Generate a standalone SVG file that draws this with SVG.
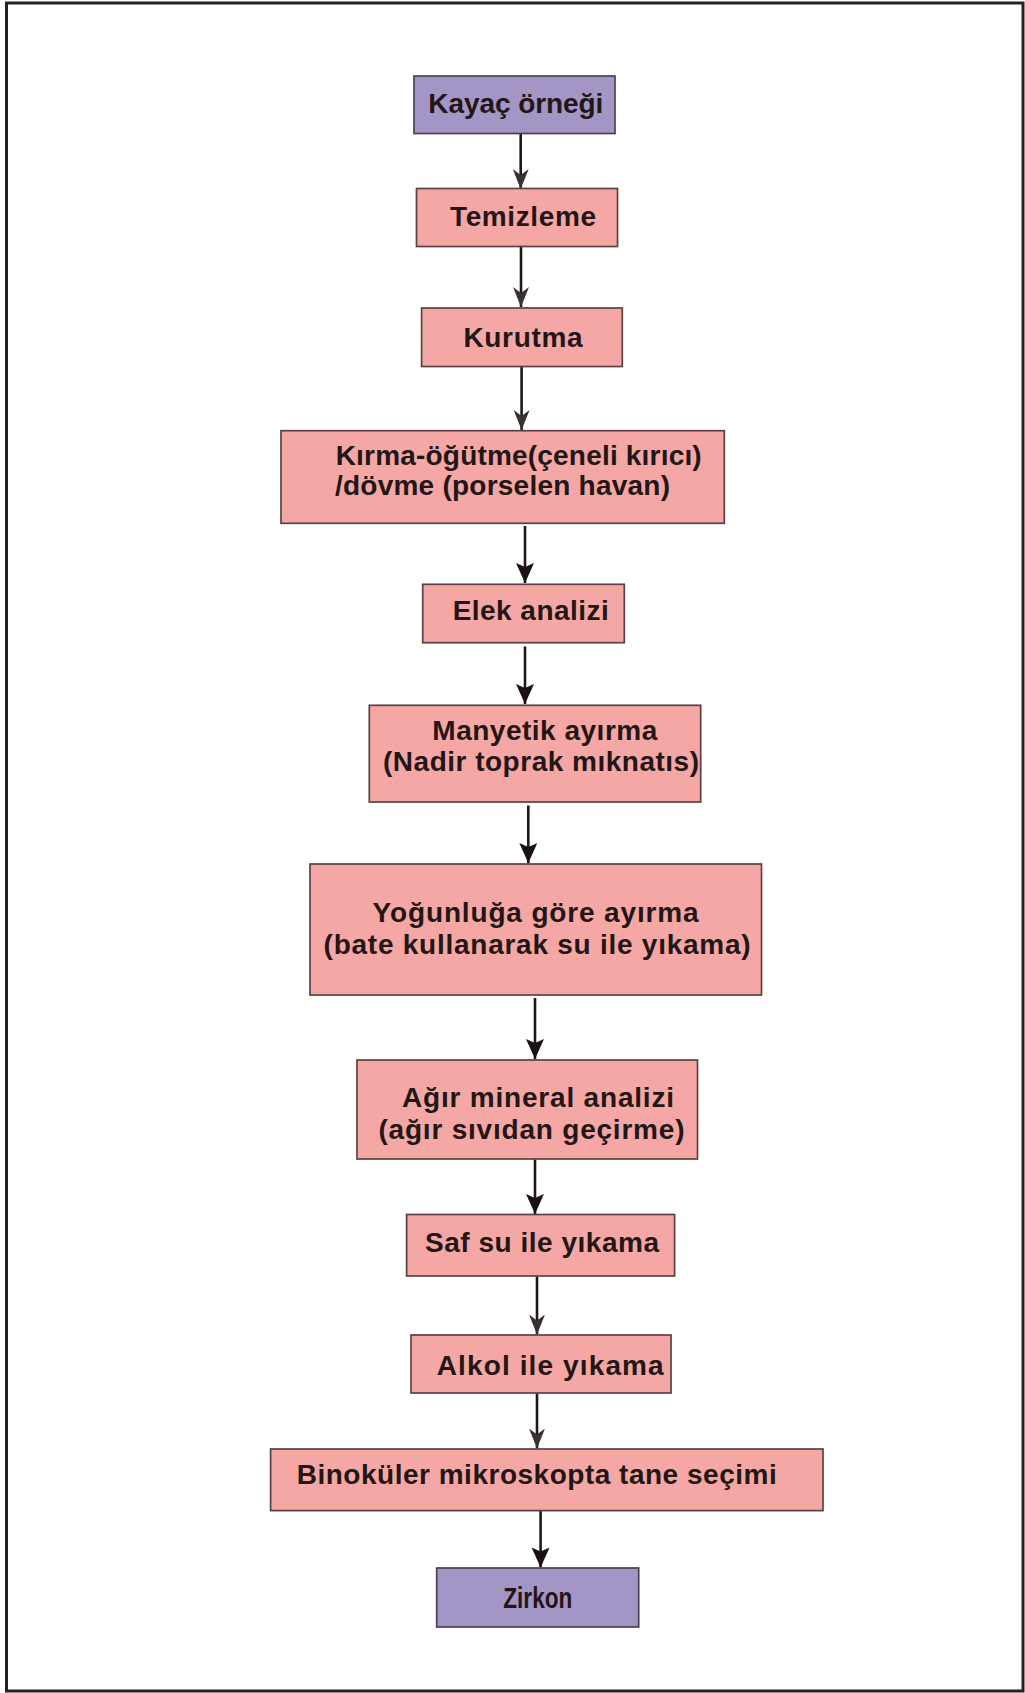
<svg xmlns="http://www.w3.org/2000/svg" width="1025" height="1693" viewBox="0 0 1025 1693">
<style>
.box{fill:#f5a7a5;stroke:#5a4242;stroke-width:1.7}
.pur{fill:#a395c5;stroke:#4a4254;stroke-width:1.7}
.t{font-family:"Liberation Sans",Arial,sans-serif;font-weight:bold;font-size:28px;fill:#231616}
.ln{stroke:#1f1717;stroke-width:2.6;fill:none}
.solid{marker-end:url(#hs)}
.faint{marker-end:url(#hf)}
</style>
<defs>
<marker id="hs" markerUnits="userSpaceOnUse" viewBox="0 0 20 18" refX="20" refY="9" markerWidth="20" markerHeight="18" orient="auto">
<path d="M0,0 L20,9 L0,18 L4,9 Z" fill="#1a1212"/>
</marker>
<marker id="hf" markerUnits="userSpaceOnUse" viewBox="0 0 20 16" refX="20" refY="8" markerWidth="20" markerHeight="16" orient="auto">
<path d="M0,0 L20,8 L0,16 L6,8 Z" fill="#3a3030"/>
</marker>
</defs>
<rect x="0" y="0" width="1025" height="1693" fill="#ffffff"/>
<rect x="6.5" y="3" width="1016.5" height="1688" fill="none" stroke="#222" stroke-width="3"/>

<g id="connectors">
<line class="ln faint" x1="520.7" y1="134" x2="520.7" y2="189"/>
<line class="ln faint" x1="521" y1="246.5" x2="521" y2="307"/>
<line class="ln faint" x1="521.6" y1="366.5" x2="521.6" y2="430"/>
<line class="ln solid" x1="525" y1="526" x2="525" y2="583"/>
<line class="ln solid" x1="525" y1="646.5" x2="525" y2="704"/>
<line class="ln solid" x1="528.3" y1="805.5" x2="528.3" y2="863"/>
<line class="ln solid" x1="535" y1="998" x2="535" y2="1059"/>
<line class="ln solid" x1="535" y1="1159.5" x2="535" y2="1214"/>
<line class="ln faint" x1="537" y1="1276.5" x2="537" y2="1334.5"/>
<line class="ln faint" x1="537" y1="1393.5" x2="537" y2="1448.5"/>
<line class="ln solid" x1="540.6" y1="1511" x2="540.6" y2="1567.5"/>
</g>

<g id="n1"><rect class="pur" x="414" y="76" width="201" height="57.5"/><text class="t" x="428.3" y="113" textLength="175">Kayaç örneği</text></g>
<g id="n2"><rect class="box" x="416.5" y="188.5" width="201" height="58"/><text class="t" x="450" y="225.5" textLength="146">Temizleme</text></g>
<g id="n3"><rect class="box" x="421.6" y="308" width="200.7" height="58.5"/><text class="t" x="463.5" y="347" textLength="119">Kurutma</text></g>
<g id="n4"><rect class="box" x="281" y="430.7" width="443.3" height="92.6"/><text class="t" x="335.7" y="464.8" textLength="366">Kırma-öğütme(çeneli kırıcı)</text><text class="t" x="335" y="495" textLength="335">/dövme (porselen havan)</text></g>
<g id="n5"><rect class="box" x="422.7" y="584.3" width="201.6" height="58.4"/><text class="t" x="452.7" y="619.8" textLength="156">Elek analizi</text></g>
<g id="n6"><rect class="box" x="369.3" y="705.3" width="331.4" height="96.7"/><text class="t" x="432.3" y="739.5" textLength="225">Manyetik ayırma</text><text class="t" x="383" y="771" textLength="316">(Nadir toprak mıknatıs)</text></g>
<g id="n7"><rect class="box" x="310" y="864" width="451.5" height="131"/><text class="t" x="372.6" y="922" textLength="326">Yoğunluğa göre ayırma</text><text class="t" x="323.6" y="953.5" textLength="427">(bate kullanarak su ile yıkama)</text></g>
<g id="n8"><rect class="box" x="357" y="1060" width="340.5" height="99"/><text class="t" x="402" y="1106.5" textLength="272">Ağır mineral analizi</text><text class="t" x="378.5" y="1138.5" textLength="306">(ağır sıvıdan geçirme)</text></g>
<g id="n9"><rect class="box" x="406.6" y="1214.5" width="268" height="61.5"/><text class="t" x="425" y="1252" textLength="234">Saf su ile yıkama</text></g>
<g id="n10"><rect class="box" x="411" y="1335" width="260" height="58"/><text class="t" x="436.7" y="1374.8" textLength="227">Alkol ile yıkama</text></g>
<g id="n11"><rect class="box" x="270.6" y="1449" width="552.4" height="61.6"/><text class="t" x="296.7" y="1483.6" textLength="480">Binoküler mikroskopta tane seçimi</text></g>
<g id="n12"><rect class="pur" x="436.7" y="1568" width="202" height="59"/><text class="t" x="503.3" y="1608.3" style="font-size:29px" textLength="69" lengthAdjust="spacingAndGlyphs">Zirkon</text></g>
</svg>
